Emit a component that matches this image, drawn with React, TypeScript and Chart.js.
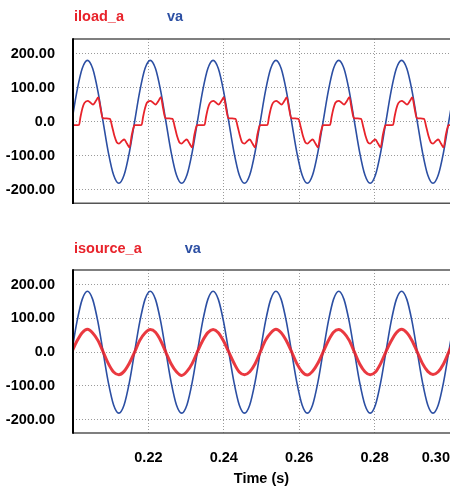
import React, { useEffect, useRef } from 'react';
import { Chart, registerables } from 'chart.js';

Chart.register(...registerables);

// time in ms
const VA_T = [
  199.66, 201.05, 202.44, 203.83, 205.22, 206.60, 207.99, 209.38, 210.77, 212.16, 213.55, 214.94,
  216.33, 217.72, 219.10, 220.49, 221.88, 223.27, 224.66, 226.05, 227.44, 228.83, 230.22, 231.60,
  232.99, 234.38, 235.77, 237.16, 238.55, 239.94, 241.33, 242.72, 244.10, 245.49, 246.88, 248.27,
  249.66, 251.05, 252.44, 253.83, 255.22, 256.60, 257.99, 259.38, 260.77, 262.16, 263.55, 264.94,
  266.33, 267.72, 269.10, 270.49, 271.88, 273.27, 274.66, 276.05, 277.44, 278.83, 280.22, 281.60,
  282.99, 284.38, 285.77, 287.16, 288.55, 289.94, 291.33, 292.72, 294.10, 295.49, 296.88, 298.27,
  299.66, 301.05,
];

const VA = [
  0, 90.5, 156.8, 181, 156.8, 90.5, 0, -90.5, -156.8, -181, -156.8, -90.5,
  0, 90.5, 156.8, 181, 156.8, 90.5, 0, -90.5, -156.8, -181, -156.8, -90.5,
  0, 90.5, 156.8, 181, 156.8, 90.5, 0, -90.5, -156.8, -181, -156.8, -90.5,
  0, 90.5, 156.8, 181, 156.8, 90.5, 0, -90.5, -156.8, -181, -156.8, -90.5,
  0, 90.5, 156.8, 181, 156.8, 90.5, 0, -90.5, -156.8, -181, -156.8, -90.5,
  0, 90.5, 156.8, 181, 156.8, 90.5, 0, -90.5, -156.8, -181, -156.8, -90.5,
  0, 90.5,
];

// isource_a sampled at the same instants as va
const ISOURCE = [
  0, 33, 58, 68, 57, 35, 1, -34, -59, -67, -57, -33,
  0, 35, 57, 67, 59, 34, -1, -35, -58, -69, -57, -34,
  1, 34, 58, 67, 58, 33, 0, -33, -59, -67, -58, -35,
  0, 35, 57, 68, 58, 34, 1, -34, -58, -68, -57, -33,
  0, 34, 59, 67, 57, 35, 0, -35, -58, -67, -59, -34,
  1, 33, 58, 68, 58, 34, 0, -34, -57, -66, -58, -35,
  0, 34,
];

const ILOAD_T = [
  199.5,
  199.7, 200.6, 201.6, 202.0, 202.5, 203.0, 203.9, 204.6, 205.3, 206.1, 206.7, 207.3, 207.9, 208.9, 209.8, 210.4, 211.0, 211.6, 212.2, 212.9, 213.6, 214.3, 215.0, 215.6, 216.2,
  216.3, 217.2, 218.2, 218.6, 219.1, 219.6, 220.5, 221.2, 221.9, 222.7, 223.3, 223.9, 224.5, 225.5, 226.4, 227.0, 227.6, 228.2, 228.8, 229.5, 230.2, 230.9, 231.6, 232.2, 232.8,
  233.0, 233.9, 234.9, 235.3, 235.8, 236.3, 237.2, 237.9, 238.6, 239.4, 240.0, 240.6, 241.2, 242.2, 243.1, 243.7, 244.3, 244.9, 245.5, 246.2, 246.9, 247.6, 248.3, 248.9, 249.5,
  249.7, 250.6, 251.6, 252.0, 252.5, 253.0, 253.9, 254.6, 255.3, 256.1, 256.7, 257.3, 257.9, 258.9, 259.8, 260.4, 261.0, 261.6, 262.2, 262.9, 263.6, 264.3, 265.0, 265.6, 266.2,
  266.3, 267.2, 268.2, 268.6, 269.1, 269.6, 270.5, 271.2, 271.9, 272.7, 273.3, 273.9, 274.5, 275.5, 276.4, 277.0, 277.6, 278.2, 278.8, 279.5, 280.2, 280.9, 281.6, 282.2, 282.8,
  283.0, 283.9, 284.9, 285.3, 285.8, 286.3, 287.2, 287.9, 288.6, 289.4, 290.0, 290.6, 291.2, 292.2, 293.1, 293.7, 294.3, 294.9, 295.5, 296.2, 296.9, 297.6, 298.3, 298.9, 299.5,
  299.7, 300.6,
];

const ILOAD = [
  -11,
  -10, -10, -9, 15, 40, 55, 62, 57, 51, 62, 72, 40, 11, 10, 9, -15, -42, -60, -64, -57, -52, -64, -75, -38, -12,
  -10, -10, -9, 15, 40, 56, 62, 57, 51, 62, 73, 40, 11, 10, 9, -15, -42, -60, -64, -57, -52, -64, -75, -38, -12,
  -10, -10, -9, 15, 40, 55, 62, 57, 51, 62, 72, 40, 11, 10, 9, -15, -42, -61, -64, -57, -52, -64, -75, -38, -12,
  -10, -10, -9, 15, 40, 55, 62, 57, 51, 62, 72, 40, 11, 10, 9, -15, -42, -60, -64, -57, -52, -64, -75, -38, -12,
  -10, -10, -9, 15, 40, 56, 62, 57, 51, 62, 73, 40, 11, 10, 9, -15, -42, -60, -64, -57, -52, -64, -75, -38, -12,
  -10, -10, -9, 15, 40, 55, 62, 57, 51, 62, 72, 40, 11, 10, 9, -15, -42, -60, -64, -57, -52, -64, -75, -38, -12,
  -10, -10,
];

const X_TICKS = [200, 220, 240, 260, 280, 300];
const X_TICK_LABELS = ['', '0.22', '0.24', '0.26', '0.28', '0.30'];
const Y_TICKS = [-200, -100, 0, 100, 200];
const Y_TICK_LABELS = ['-200.00', '-100.00', '0.0', '100.00', '200.00'];
const TOP_LABELS = ['iload_a', 'va'];
const BOTTOM_LABELS = ['isource_a', 'va'];
const X_TITLE = 'Time (s)';

const FONT = "'Liberation Sans', Arial, sans-serif";
const FONT_SIZE = 14.5;
const RED = '#e8232b';
const RED_BAND = 'rgba(232,35,43,0.9)';
const BLUE = '#2c4fa3';

const pts = (ts: number[], vs: number[]) => ts.map((x, i) => ({ x, y: vs[i] }));

const framePlugin = {
  id: 'frame',
  afterDatasetsDraw(chart: any) {
    const { ctx, chartArea: a } = chart;
    ctx.save();
    ctx.strokeStyle = '#555';
    ctx.lineWidth = 1.5;
    ctx.beginPath();
    ctx.moveTo(a.left, a.top);
    ctx.lineTo(a.right, a.top);
    ctx.moveTo(a.left, a.bottom);
    ctx.lineTo(a.right, a.bottom);
    ctx.stroke();
    ctx.strokeStyle = '#000';
    ctx.lineWidth = 2;
    ctx.beginPath();
    ctx.moveTo(a.left, a.top - 0.75);
    ctx.lineTo(a.left, a.bottom + 0.75);
    ctx.stroke();
    ctx.restore();
  },
};

const labelsPlugin = {
  id: 'seriesLabels',
  afterDraw(chart: any, _args: any, opts: any) {
    const { ctx, chartArea } = chart;
    ctx.save();
    ctx.font = `bold ${FONT_SIZE}px ${FONT}`;
    ctx.textBaseline = 'middle';
    ctx.textAlign = 'left';
    let x = chartArea.left + 1;
    chart.data.datasets.forEach((ds: any, i: number) => {
      ctx.fillStyle = opts.colors[i];
      ctx.fillText(ds.label, x, opts.y);
      x += ctx.measureText(ds.label).width + opts.gap;
    });
    ctx.restore();
  },
};

function makeConfig(bottom: boolean): any {
  const redData = bottom ? pts(VA_T, ISOURCE) : pts(ILOAD_T, ILOAD);
  const labels = bottom ? BOTTOM_LABELS : TOP_LABELS;
  const font = { family: FONT, size: FONT_SIZE, weight: 'bold' };
  return {
    type: 'line',
    data: {
      datasets: [
        {
          label: labels[0],
          data: redData,
          borderColor: bottom ? RED_BAND : RED,
          borderWidth: bottom ? 3 : 1.8,
          pointRadius: 0,
          cubicInterpolationMode: 'monotone',
        },
        {
          label: labels[1],
          data: pts(VA_T, VA),
          borderColor: BLUE,
          borderWidth: 1.6,
          pointRadius: 0,
          cubicInterpolationMode: 'monotone',
        },
      ],
    },
    options: {
      responsive: false,
      animation: false,
      events: [],
      layout: { padding: { top: bottom ? 40 : 39, bottom: bottom ? 0 : 17, left: 0, right: 0 } },
      plugins: {
        legend: { display: false },
        tooltip: { enabled: false },
        seriesLabels: { colors: [RED, BLUE], y: bottom ? 19 : 17, gap: 43 },
      },
      scales: {
        x: {
          type: 'linear',
          min: 200,
          max: 300,
          afterBuildTicks: (s: any) => { s.ticks = X_TICKS.map((value) => ({ value })); },
          afterFit: (s: any) => {
            s.height = bottom ? 57 : 0;
            s.paddingLeft = 0;
            s.paddingRight = 0;
          },
          grid: { color: '#9a9a9a', lineWidth: 1, drawTicks: false },
          border: { display: false, dash: [1, 2] },
          ticks: {
            display: bottom,
            autoSkip: false,
            maxRotation: 0,
            align: 'inner',
            padding: 16,
            color: '#000',
            font,
            callback: (_v: any, i: number) => X_TICK_LABELS[i],
          },
          title: {
            display: bottom,
            text: X_TITLE,
            color: '#000',
            padding: { top: 0, bottom: 2 },
            font,
          },
        },
        y: {
          type: 'linear',
          min: -240,
          max: 244,
          afterBuildTicks: (s: any) => { s.ticks = Y_TICKS.map((value) => ({ value })); },
          afterFit: (s: any) => { s.width = 73; },
          grid: { color: '#9a9a9a', lineWidth: 1, drawTicks: false },
          border: { display: false, dash: [1, 2] },
          ticks: {
            padding: 18,
            color: '#000',
            font,
            callback: (_v: any, i: number) => Y_TICK_LABELS[i],
          },
        },
      },
    },
    plugins: [framePlugin, labelsPlugin],
  };
}

function Panel({ bottom, height }: { bottom: boolean; height: number }) {
  const ref = useRef<HTMLCanvasElement | null>(null);
  useEffect(() => {
    if (!ref.current) return;
    const chart = new Chart(ref.current, makeConfig(bottom));
    return () => chart.destroy();
  }, [bottom]);
  return <canvas ref={ref} width={450} height={height} style={{ display: 'block' }} />;
}

export default function App() {
  return (
    <div style={{ position: 'fixed', left: 0, top: 0, width: 450, height: 490, background: '#fff' }}>
      <Panel bottom={false} height={230} />
      <Panel bottom={true} height={260} />
    </div>
  );
}
